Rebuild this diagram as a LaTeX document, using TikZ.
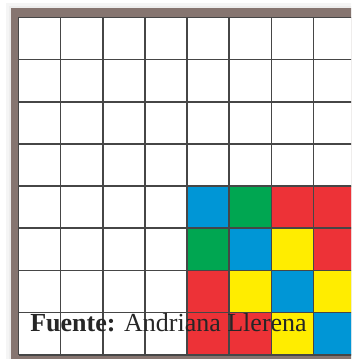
\documentclass[tikz,border=0pt]{standalone}
\usepackage{fontspec}
\setmainfont{Liberation Serif}
\definecolor{framebrown}{RGB}{134,117,112}
\definecolor{gridgray}{RGB}{70,70,70}
\definecolor{cblue}{RGB}{0,150,214}
\definecolor{cgreen}{RGB}{0,166,81}
\definecolor{cred}{RGB}{237,50,55}
\definecolor{cyellow}{RGB}{255,237,0}

\begin{document}
\begin{tikzpicture}[x=0.75pt, y=-0.75pt,
    gridline/.style={draw=gridgray, line width=1.2pt}]
  \useasboundingbox (0,0) rectangle (351,359);

  \begin{scope}
    \clip (0,0) rectangle (351,359);

    %--- soft shadow and frame
    \fill[black!4] (6,3) rectangle (400,400);
    \fill[black!7] (9,6) rectangle (400,400);
    \fill[framebrown] (11,8) rectangle (400,400);
    \fill[white] (18.5,17.5) rectangle (400,354.7);

    %--- coloured cells (column/row/colour)
    \foreach \c/\r/\col in {4/4/cblue, 5/4/cgreen, 6/4/cred, 7/4/cred,
                            4/5/cgreen, 5/5/cblue, 6/5/cyellow, 7/5/cred,
                            4/6/cred, 5/6/cyellow, 6/6/cblue, 7/6/cyellow,
                            4/7/cred, 5/7/cred, 6/7/cyellow, 7/7/cblue}
      \fill[\col] (18.5+42.15*\c,17.5+42.15*\r) rectangle +(42.15,42.15);

    %--- grid
    \foreach \i in {0,...,8} {
      \draw[gridline] (18.5+42.15*\i,17.5) -- (18.5+42.15*\i,354.7);
      \draw[gridline] (18.5,17.5+42.15*\i) -- (400,17.5+42.15*\i);
    }
  \end{scope}

  %--- source line
  \node[anchor=base west, inner sep=0pt, text=black!85,
        font=\fontsize{19.5}{22}\selectfont] (source) at (30,331)
    {\textbf{Fuente:} Andriana Llerena};

\end{tikzpicture}
\end{document}
